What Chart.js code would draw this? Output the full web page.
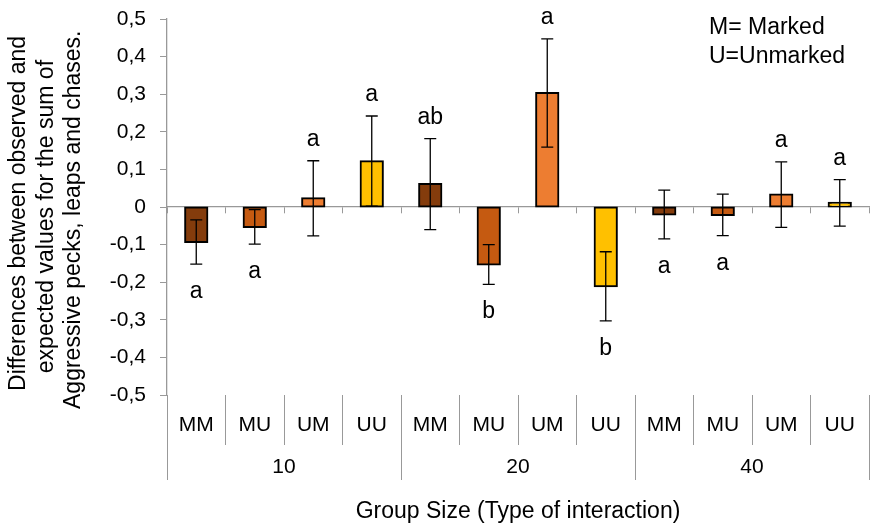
<!DOCTYPE html>
<html lang="en">
<head>
  <meta charset="UTF-8" />
  <title>Observed vs expected aggression by group size</title>
  <script src="https://cdn.jsdelivr.net/npm/chart.js"></script>
  <style>
    body {
      margin: 0;
      background: #fff;
    }
    #wrap {
      width: 872px;
      height: 528px;
      position: relative;
    }
  </style>
</head>
<body>
  <div id="wrap"><canvas id="chart"></canvas></div>

  <script>
    // data
    const types = ['MM', 'MU', 'UM', 'UU', 'MM', 'MU', 'UM', 'UU', 'MM', 'MU', 'UM', 'UU'];
    const groupSizes = ['10', '20', '40'];
    const means = [-0.093, -0.053, 0.023, 0.122, 0.061, -0.153, 0.303, -0.211, -0.020, -0.021, 0.033, 0.011];
    const errors = [0.059, 0.046, 0.100, 0.120, 0.121, 0.053, 0.144, 0.092, 0.065, 0.055, 0.087, 0.062];
    const letters = ['a', 'a', 'a', 'a', 'ab', 'b', 'a', 'b', 'a', 'a', 'a', 'a'];
    const yTicks = [-0.5, -0.4, -0.3, -0.2, -0.1, 0, 0.1, 0.2, 0.3, 0.4, 0.5];

    const typeColors = {
      MM: '#843C0C',
      MU: '#C55A11',
      UM: '#ED7D31',
      UU: '#FFC000'
    };
    const FONT = '"Liberation Sans", Arial, sans-serif';
    const AXIS = '#999999';

    function fmt(v) {
      if (Math.abs(v) < 1e-9) return '0';
      return v.toFixed(1).replace('.', ',');
    }

    // error bars, significance letters and the M/U key
    const extras = {
      id: 'extras',
      afterDatasetsDraw(chart) {
        const ctx = chart.ctx;
        const meta = chart.getDatasetMeta(0);
        const y = chart.scales.y;
        ctx.save();
        ctx.strokeStyle = '#000';
        ctx.lineWidth = 1.3;
        ctx.fillStyle = '#000';
        ctx.font = '23px ' + FONT;
        ctx.textAlign = 'center';
        ctx.textBaseline = 'alphabetic';
        meta.data.forEach((bar, i) => {
          const x = bar.x;
          const hi = y.getPixelForValue(means[i] + errors[i]);
          const lo = y.getPixelForValue(means[i] - errors[i]);
          ctx.beginPath();
          ctx.moveTo(x, hi);
          ctx.lineTo(x, lo);
          ctx.moveTo(x - 6, hi);
          ctx.lineTo(x + 6, hi);
          ctx.moveTo(x - 6, lo);
          ctx.lineTo(x + 6, lo);
          ctx.stroke();
          if (means[i] >= 0) {
            ctx.fillText(letters[i], x, hi - 15);
          } else {
            ctx.fillText(letters[i], x, lo + 34);
          }
        });
        ctx.textAlign = 'left';
        ctx.fillText('M= Marked', 709, 34);
        ctx.fillText('U=Unmarked', 709, 63);
        ctx.restore();
      }
    };

    new Chart(document.getElementById('chart'), {
      type: 'bar',
      data: {
        labels: types,
        datasets: [{
          data: means,
          backgroundColor: types.map(t => typeColors[t]),
          borderColor: '#000',
          borderWidth: 2,
          borderSkipped: false,
          inflateAmount: 1,
          barPercentage: 0.38,
          categoryPercentage: 1
        }]
      },
      options: {
        responsive: true,
        maintainAspectRatio: false,
        animation: false,
        layout: { padding: { top: 19, right: 3, left: 0, bottom: 0 } },
        plugins: {
          legend: { display: false },
          tooltip: { enabled: false }
        },
        scales: {
          // zero line with the small ticks between bars
          x: {
            position: { y: 0 },
            offset: true,
            grid: { offset: true, drawOnChartArea: false, tickLength: 6, color: AXIS },
            border: { color: AXIS, width: 1.3 },
            ticks: { display: false },
            afterFit: s => { s.height = 0; s.paddingTop = 0; s.paddingBottom = 0; }
          },
          // type of interaction row
          x2: {
            axis: 'x',
            type: 'category',
            position: 'bottom',
            labels: types,
            offset: true,
            grid: { offset: true, drawOnChartArea: false, tickLength: 50, color: AXIS },
            border: { display: false },
            ticks: { color: '#000', font: { family: FONT, size: 21 }, padding: -32, maxRotation: 0, autoSkip: false },
            afterFit: s => { s.height = 50; }
          },
          // group size row
          x3: {
            axis: 'x',
            type: 'category',
            position: 'bottom',
            labels: groupSizes,
            offset: true,
            grid: { offset: true, drawOnChartArea: false, tickLength: 35, color: AXIS },
            border: { display: false },
            ticks: { color: '#000', font: { family: FONT, size: 21 }, padding: -25, maxRotation: 0 },
            title: {
              display: true,
              text: 'Group Size (Type of interaction)',
              color: '#000',
              font: { family: FONT, size: 23 },
              padding: { top: 0, bottom: 3 }
            },
            afterFit: s => { s.height = 83; }
          },
          y: {
            min: -0.5,
            max: 0.5,
            afterBuildTicks: s => { s.ticks = yTicks.map(v => ({ value: v })); },
            grid: { drawOnChartArea: false, tickLength: 7, color: AXIS },
            border: { color: AXIS, width: 1.3 },
            ticks: {
              color: '#000',
              font: { family: FONT, size: 21 },
              padding: 14,
              callback: v => fmt(v)
            },
            title: {
              display: true,
              // trailing spaces nudge the rotated lines down a little, like the original
              text: ['Differences between observed and  ', 'expected values for the sum of   ', 'Aggressive pecks, leaps and chases.    '],
              color: '#000',
              font: { family: FONT, size: 23, lineHeight: 1.2 },
              padding: { top: 5, bottom: 0 }
            },
            afterFit: s => { s.width = 167; s.paddingTop = 0; s.paddingBottom = 0; }
          }
        }
      },
      plugins: [extras]
    });
  </script>
</body>
</html>
